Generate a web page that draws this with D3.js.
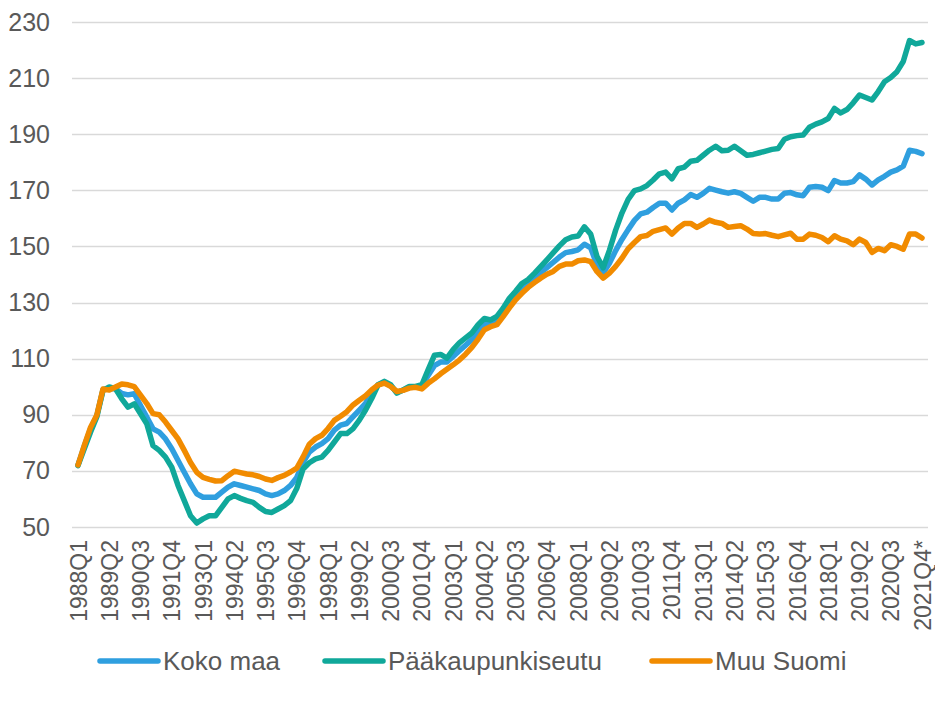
<!DOCTYPE html>
<html>
<head>
<meta charset="utf-8">
<script src="https://cdn.jsdelivr.net/npm/d3@7/dist/d3.min.js"></script>
<style>
  body { margin: 0; background: #fff; }
  text { font-family: "Liberation Sans", Arial, sans-serif; fill: #595959; }
</style>
</head>
<body>
<div class="chart"></div>
<script>
// quarters 1988Q1 .. 2021Q4*
var years = d3.range(1988, 2022);
var quarters = [];
years.forEach(function(y){
  [1, 2, 3, 4].forEach(function(q){ quarters.push(y + 'Q' + q); });
});
quarters[quarters.length - 1] += '*';

var yTicks = [50, 70, 90, 110, 130, 150, 170, 190, 210, 230];

var seriesNames = ['Koko maa', 'Pääkaupunkiseutu', 'Muu Suomi'];
var seriesColors = ['#2f9fdf', '#10a89a', '#f18b00'];

var kokoMaa = [
  72.1, 78.8, 85.0, 89.6, 99.0, 99.4, 99.3, 97.6, 97.1, 97.5,
  93.3, 89.2, 85.0, 83.8, 81.4, 77.9, 73.7, 69.5, 65.4, 61.8,
  60.6, 60.6, 60.6, 62.4, 64.2, 65.4, 64.8, 64.2, 63.6, 63.0,
  61.8, 61.2, 61.8, 63.0, 64.8, 67.7, 73.1, 76.7, 78.5, 79.7,
  81.5, 84.5, 86.3, 86.9, 89.3, 91.7, 94.1, 97.7, 100.7, 101.5,
  100.4, 98.0, 98.8, 99.8, 100.0, 100.0, 104.0, 107.5, 108.8, 108.8,
  110.8, 112.8, 114.8, 116.8, 119.4, 122.3, 122.5, 123.6, 126.5, 129.8,
  132.5, 135.0, 137.0, 138.8, 140.7, 142.5, 144.3, 146.2, 147.8, 148.2,
  148.8, 150.8, 149.5, 143.5, 140.5, 144.0, 148.5, 152.5, 156.0, 159.3,
  161.6, 162.2, 163.9, 165.4, 165.4, 163.0, 165.4, 166.6, 168.5, 167.5,
  168.9, 170.7, 170.1, 169.5, 169.0, 169.5, 168.9, 167.5, 166.1, 167.5,
  167.5, 166.9, 166.9, 169.0, 169.2, 168.4, 168.1, 171.1, 171.4, 171.1,
  169.9, 173.5, 172.6, 172.6, 173.1, 175.5, 174.0, 171.9, 173.7, 175.0,
  176.5, 177.3, 178.6, 184.3, 183.9, 183.1
];

var paakaupunkiseutu = [
  71.9, 77.9, 83.8, 89.2, 98.7, 99.9, 99.3, 95.7, 92.7, 93.9,
  90.4, 86.8, 79.0, 77.3, 74.9, 71.3, 64.8, 59.4, 54.0, 51.4,
  52.9, 54.0, 54.0, 57.0, 60.0, 61.2, 60.2, 59.4, 58.8, 57.0,
  55.5, 55.2, 56.4, 57.6, 59.4, 63.8, 70.7, 72.9, 74.3, 74.9,
  77.3, 80.3, 83.3, 83.3, 85.1, 88.1, 91.7, 95.9, 100.7, 101.9,
  100.7, 97.7, 98.9, 100.1, 100.1, 100.7, 106.0, 111.2, 111.5, 110.2,
  113.2, 115.6, 117.4, 119.2, 122.1, 124.3, 123.8, 125.1, 128.0, 131.5,
  134.0, 136.8, 138.2, 140.4, 142.8, 145.2, 147.7, 150.2, 152.4, 153.4,
  153.7, 157.0, 154.4, 146.5, 142.4, 148.6, 155.8, 161.9, 166.8, 169.9,
  170.5, 171.7, 173.7, 175.9, 176.5, 174.1, 177.7, 178.3, 180.4, 180.7,
  182.5, 184.3, 185.7, 184.1, 184.3, 185.7, 184.1, 182.5, 182.8, 183.4,
  184.0, 184.6, 184.9, 188.2, 189.1, 189.5, 189.7, 192.5, 193.6, 194.4,
  195.6, 199.2, 197.6, 198.8, 201.2, 204.0, 203.1, 202.2, 205.2, 208.7,
  210.2, 212.3, 215.9, 223.4, 222.2, 222.7
];

var muuSuomi = [
  72.1, 79.0, 85.5, 89.8, 99.2, 98.8, 99.9, 101.0, 100.7, 100.0,
  97.0, 94.0, 90.4, 90.0, 87.4, 84.4, 81.4, 77.3, 73.0, 69.5,
  67.7, 67.0, 66.4, 66.5, 68.3, 69.9, 69.4, 68.9, 68.6, 68.0,
  67.1, 66.6, 67.6, 68.4, 69.6, 71.0, 75.0, 79.5, 81.5, 82.7,
  85.1, 88.0, 89.5, 91.1, 93.5, 95.2, 96.8, 98.9, 100.6, 101.3,
  100.1, 98.3, 98.7, 99.5, 99.8, 99.2, 101.2, 102.8, 104.6, 106.2,
  107.8, 109.5, 111.6, 114.0, 117.0, 120.3, 121.4, 122.1, 125.0, 128.1,
  131.0, 133.3, 135.4, 137.1, 138.7, 140.1, 141.1, 142.9, 143.7, 143.7,
  144.9, 145.2, 144.6, 141.1, 138.7, 140.5, 142.9, 145.8, 149.2, 151.4,
  153.5, 153.9, 155.4, 156.0, 156.6, 154.4, 156.6, 158.2, 158.2, 156.8,
  158.0, 159.4, 158.6, 158.2, 156.8, 157.1, 157.4, 156.2, 154.6, 154.4,
  154.6, 154.0, 153.5, 154.1, 154.7, 152.6, 152.6, 154.4, 154.0, 153.2,
  151.7, 153.8, 152.6, 152.0, 150.6, 152.6, 151.4, 147.9, 149.3, 148.5,
  150.6, 150.0, 149.0, 154.4, 154.4, 153.0
];

var seriesValues = [kokoMaa, paakaupunkiseutu, muuSuomi];

var size = { width: 935, height: 703 };

var svg = d3.select('.chart')
  .append('svg')
  .attr('width', size.width)
  .attr('height', size.height);

var x = d3.scalePoint().domain(quarters).range([78, 922]);
var y = d3.scaleLinear().domain([50, 230]).range([527, 22]);

// grid lines
svg.append('g')
  .selectAll('line')
  .data(yTicks)
  .enter()
  .append('line')
  .attr('x1', 72)
  .attr('x2', 928)
  .attr('y1', function(d){ return Math.round(y(d)) + 0.5; })
  .attr('y2', function(d){ return Math.round(y(d)) + 0.5; })
  .attr('stroke', '#d9d9d9')
  .attr('stroke-width', 1.5);

// y axis labels
var yAxis = svg.append('g')
  .attr('transform', 'translate(72,0)')
  .call(d3.axisLeft(y).tickValues(yTicks).tickSize(0).tickPadding(22));
yAxis.select('.domain').remove();
yAxis.selectAll('text')
  .style('font-size', '25px')
  .style('font-family', '"Liberation Sans", Arial, sans-serif')
  .attr('fill', '#595959');

// x axis labels, every 5th quarter, vertical
var xAxis = svg.append('g')
  .attr('transform', 'translate(0,' + y(50) + ')')
  .call(d3.axisBottom(x)
    .tickValues(quarters.filter(function(d, i){ return i % 5 === 0; }))
    .tickSize(0));
xAxis.select('.domain').remove();
xAxis.selectAll('text')
  .attr('transform', 'rotate(-90)')
  .attr('x', -13)
  .attr('y', 0)
  .attr('dy', '0.35em')
  .attr('text-anchor', 'end')
  .style('font-size', '23px')
  .style('font-family', '"Liberation Sans", Arial, sans-serif')
  .attr('fill', '#595959');

// lines
var line = d3.line()
  .x(function(d, i){ return x(quarters[i]); })
  .y(function(d){ return y(d); });

svg.append('g')
  .selectAll('path')
  .data(seriesValues)
  .enter()
  .append('path')
  .attr('d', line)
  .attr('fill', 'none')
  .attr('stroke', function(d, i){ return seriesColors[i]; })
  .attr('stroke-width', 5.5)
  .attr('stroke-linejoin', 'round')
  .attr('stroke-linecap', 'round');

// legend
var legendX = [100, 325, 652];
var legend = svg.append('g')
  .selectAll('g')
  .data(seriesNames)
  .enter()
  .append('g')
  .attr('transform', function(d, i){ return 'translate(' + legendX[i] + ',661)'; });

legend.append('line')
  .attr('x1', 0).attr('x2', 58)
  .attr('stroke', function(d, i){ return seriesColors[i]; })
  .attr('stroke-width', 5.5)
  .attr('stroke-linecap', 'round');

legend.append('text')
  .attr('x', 63)
  .attr('dy', '0.35em')
  .style('font-size', '26px')
  .text(function(d){ return d; });
</script>
</body>
</html>
